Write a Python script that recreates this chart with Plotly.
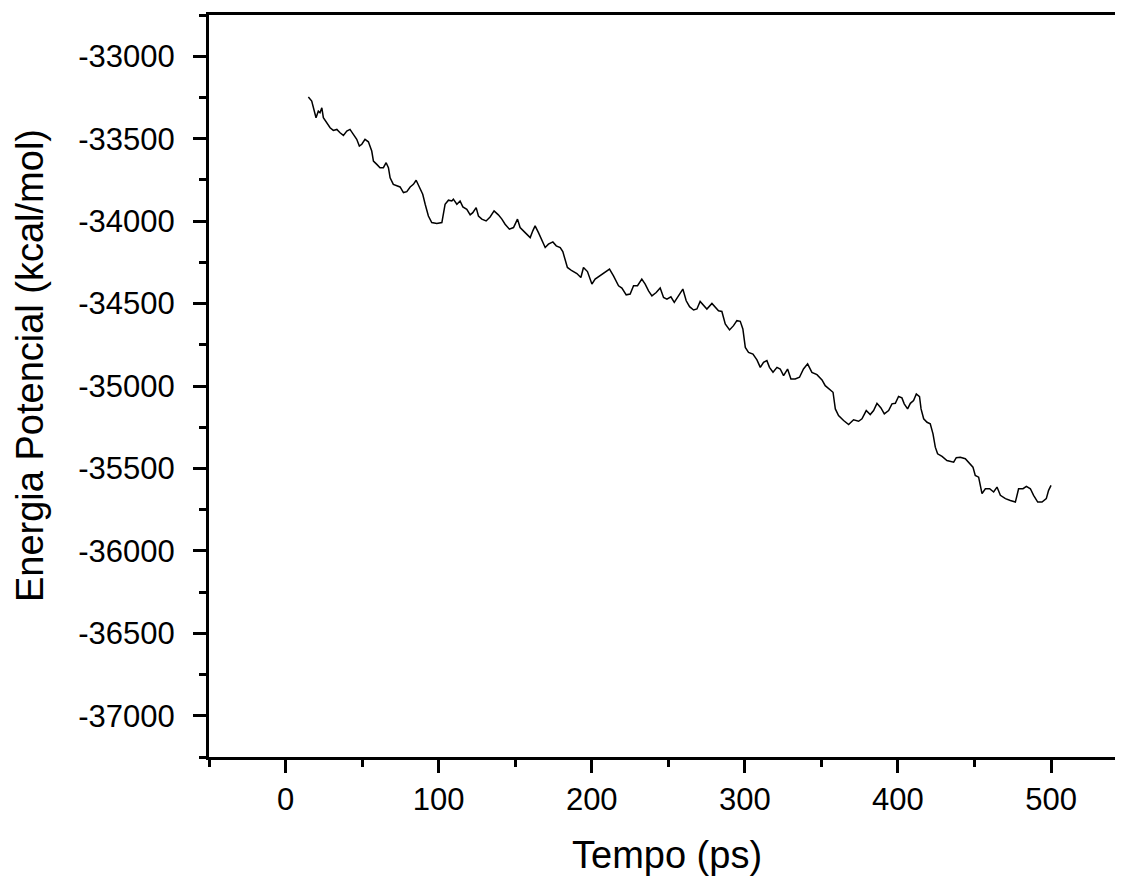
import plotly.graph_objects as go

tempo = [14.9, 17.1, 19.9, 21.4, 22.5, 23.7, 24.7, 26.9, 29.1, 31.2, 33.5, 35.6, 37.8, 40.0, 42.1, 44.3, 46.5, 48.2, 49.8, 51.9,
         54.1, 56.3, 57.4, 59.6, 61.7, 63.9, 65.7, 67.2, 68.3, 70.4, 72.7, 74.8, 77.0, 79.2, 81.4, 83.5, 85.3, 87.4, 89.6, 91.2,
         93.3, 95.5, 98.8, 102.1, 103.1, 104.2, 106.4, 108.6, 109.6, 111.9, 114.0, 115.8, 118.4, 120.6, 122.3, 124.5, 126.0, 128.2, 131.0, 133.6,
         136.2, 139.0, 141.3, 143.4, 146.2, 148.9, 151.5, 153.2, 156.5, 159.8, 161.5, 163.0, 165.2, 167.4, 169.6, 171.7, 174.6, 176.8, 179.4, 181.1,
         182.6, 184.1, 187.0, 190.3, 192.9, 194.6, 197.2, 200.1, 202.2, 205.5, 208.8, 211.6, 214.2, 217.5, 219.7, 222.5, 225.1, 227.3, 229.9, 232.7,
         234.9, 237.1, 239.3, 242.1, 244.7, 246.9, 249.1, 251.7, 253.9, 256.7, 259.5, 261.7, 263.9, 266.5, 268.7, 270.8, 273.5, 275.2, 278.5, 280.6,
         282.8, 285.0, 287.2, 290.0, 292.6, 294.8, 297.0, 298.7, 300.3, 302.4, 305.3, 307.9, 310.1, 312.2, 314.4, 316.1, 318.4, 321.0, 323.1, 325.3,
         327.9, 330.1, 332.9, 335.7, 338.3, 341.0, 343.8, 347.1, 350.4, 352.5, 354.7, 357.6, 359.1, 361.2, 364.5, 367.8, 371.0, 374.3, 376.5, 379.3,
         381.9, 384.1, 386.3, 388.9, 391.1, 393.9, 396.1, 398.3, 400.4, 402.6, 404.1, 406.3, 408.1, 410.2, 412.0, 414.1, 415.1, 416.8, 419.0, 421.1,
         422.9, 424.4, 425.9, 428.8, 432.0, 436.4, 438.1, 440.7, 444.0, 446.2, 449.0, 450.5, 452.7, 453.8, 454.9, 457.1, 459.9, 462.5, 464.7, 466.9,
         470.2, 473.4, 476.7, 478.8, 481.7, 483.9, 486.5, 488.6, 491.3, 494.1, 496.9, 498.4, 500.0]

energia = [-33248, -33272, -33373, -33333, -33343, -33313, -33373, -33404, -33434, -33450, -33444, -33464, -33480, -33454, -33444, -33474, -33504, -33545, -33534, -33504,
           -33519, -33575, -33636, -33656, -33676, -33676, -33646, -33676, -33737, -33777, -33787, -33793, -33827, -33821, -33793, -33777, -33752, -33797, -33837, -33898,
           -33969, -34009, -34015, -34009, -33958, -33898, -33873, -33878, -33867, -33898, -33878, -33914, -33928, -33962, -33949, -33918, -33969, -33988, -33999, -33975,
           -33938, -33962, -33988, -34019, -34049, -34039, -33988, -34039, -34070, -34100, -34059, -34029, -34070, -34116, -34160, -34140, -34126, -34150, -34160, -34185,
           -34241, -34281, -34301, -34318, -34342, -34281, -34306, -34382, -34352, -34332, -34312, -34291, -34332, -34392, -34406, -34447, -34442, -34392, -34392, -34352,
           -34382, -34423, -34453, -34433, -34406, -34463, -34473, -34459, -34493, -34453, -34412, -34483, -34519, -34539, -34533, -34487, -34519, -34533, -34499, -34524,
           -34544, -34548, -34624, -34660, -34634, -34604, -34608, -34654, -34766, -34796, -34806, -34842, -34887, -34857, -34846, -34887, -34917, -34887, -34897, -34937,
           -34897, -34957, -34957, -34947, -34897, -34866, -34917, -34931, -34963, -34998, -35018, -35038, -35139, -35179, -35209, -35234, -35205, -35214, -35199, -35149,
           -35173, -35149, -35105, -35133, -35169, -35149, -35108, -35105, -35064, -35072, -35108, -35139, -35105, -35088, -35048, -35064, -35139, -35199, -35220, -35229,
           -35290, -35371, -35411, -35427, -35452, -35462, -35435, -35432, -35441, -35462, -35492, -35542, -35553, -35603, -35653, -35623, -35623, -35643, -35613, -35663,
           -35683, -35694, -35704, -35623, -35623, -35609, -35623, -35663, -35704, -35704, -35683, -35633, -35603]

x_tickvals = [0, 100, 200, 300, 400, 500]
x_ticktext = ["0", "100", "200", "300", "400", "500"]
y_tickvals = [-33000, -33500, -34000, -34500, -35000, -35500, -36000, -36500, -37000]
y_ticktext = ["-33000", "-33500", "-34000", "-34500", "-35000", "-35500", "-36000", "-36500", "-37000"]

x_title = "Tempo (ps)"
y_title = "Energia Potencial (kcal/mol)"

FONT = "Liberation Sans, Arial, sans-serif"

fig = go.Figure()
fig.add_trace(go.Scatter(x=tempo, y=energia, mode="lines",
                         line=dict(color="black", width=1.5), showlegend=False))

fig.update_layout(
    width=1115, height=869,
    margin=dict(l=201, r=0, t=7, b=120),
    paper_bgcolor="white", plot_bgcolor="white",
    font=dict(family=FONT, color="black"),
    xaxis=dict(range=[-50, 547], tickvals=x_tickvals, ticktext=x_ticktext,
               showgrid=False, zeroline=False,
               showline=True, linewidth=3, linecolor="black", mirror=True,
               ticks="outside", ticklen=13, tickwidth=3, tickcolor="black",
               tickfont=dict(size=31, family=FONT, color="black"),
               minor=dict(ticks="outside", ticklen=7, tickwidth=3, tickcolor="black",
                          dtick=50, tick0=0, showgrid=False)),
    yaxis=dict(range=[-37250, -32750], tickvals=y_tickvals, ticktext=y_ticktext,
               showgrid=False, zeroline=False,
               showline=True, linewidth=3, linecolor="black", mirror=False,
               ticks="outside", ticklen=13, tickwidth=3, tickcolor="black",
               ticklabelstandoff=12,
               tickfont=dict(size=31, family=FONT, color="black"),
               minor=dict(ticks="outside", ticklen=7, tickwidth=3, tickcolor="black",
                          dtick=250, tick0=-33000, showgrid=False)),
    annotations=[
        dict(text=x_title, xref="paper", yref="paper", x=0.501, y=-0.132,
             xanchor="center", yanchor="middle", showarrow=False,
             font=dict(size=38, family=FONT, color="black")),
        dict(text=y_title, xref="paper", yref="paper", x=-0.196, y=0.528,
             xanchor="center", yanchor="middle", showarrow=False, textangle=-90,
             font=dict(size=38, family=FONT, color="black")),
    ],
)

fig.write_html("out.html")
